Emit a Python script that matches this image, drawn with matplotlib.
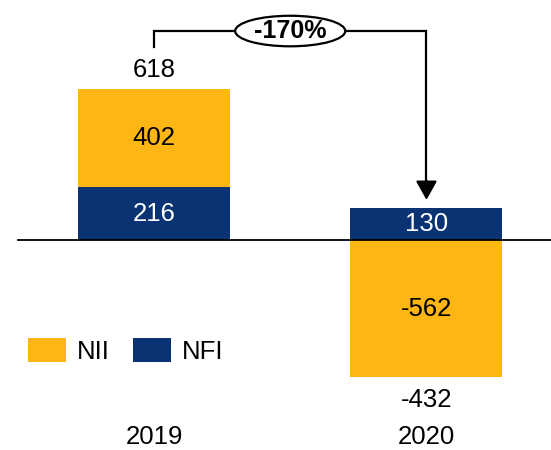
import matplotlib
matplotlib.use("Agg")
import matplotlib.pyplot as plt
from matplotlib.patches import Ellipse, Patch
import numpy as np

plt.rcParams['font.family'] = ['Liberation Sans', 'DejaVu Sans']

categories = ["2019", "2020"]
nfi = [216, 130]
nii = [402, -562]
totals = [618, -432]
change_label = "-170%"

orange = "#FDB614"
navy = "#0A3373"
FS = 18.5

fig = plt.figure(figsize=(5.51, 4.5), dpi=100)
ax = fig.add_axes([0, 0, 1, 1])
ax.set_xlim(-0.565, 1.457)
ax.set_ylim(-859.6, 982)
ax.axis('off')

x = np.arange(len(categories))
w = 0.558

# NFI bars from zero
ax.bar(x, nfi, width=w, color=navy, zorder=2)
# NII bars: stacked on top if positive, below zero if negative
nii_bottom = [n if v > 0 else 0 for n, v in zip(nfi, nii)]
ax.bar(x, nii, width=w, bottom=nii_bottom, color=orange, zorder=2)

# segment labels
for i in range(len(categories)):
    ax.text(x[i], nfi[i] / 2, str(nfi[i]), ha='center', va='center',
            color='white', fontsize=FS, zorder=3)
    ax.text(x[i], nii_bottom[i] + nii[i] / 2, str(nii[i]), ha='center',
            va='center', color='black', fontsize=FS, zorder=3)

# totals
for i, t in enumerate(totals):
    if t >= 0:
        top = nfi[i] + max(nii[i], 0)
        ax.annotate(str(t), (x[i], top), xytext=(0, 13.5),
                    textcoords='offset points', ha='center', va='center',
                    fontsize=FS)
    else:
        bot = min(nii[i], 0)
        ax.annotate(str(t), (x[i], bot), xytext=(0, -16.5),
                    textcoords='offset points', ha='center', va='center',
                    fontsize=FS)

# zero line
ax.plot([-0.499, 1.457], [0, 0], color='black', lw=1.3, zorder=4)

# category labels
trans = ax.get_xaxis_transform()
for i, c in enumerate(categories):
    ax.text(x[i], 0.029, c, ha='center', va='center', fontsize=FS,
            transform=trans)

# arrow bracket
y_top = 855
y_start = 790
y_end = nfi[1] + 34
ax.plot([x[0], x[0], x[1], x[1]], [y_start, y_top, y_top, y_end + 60],
        color='black', lw=1.6, zorder=3, solid_joinstyle='miter')
ax.annotate('', xy=(x[1], y_end), xytext=(x[1], y_end + 80),
            arrowprops=dict(arrowstyle='-|>,head_length=0.5,head_width=0.28',
                            color='black', lw=1.6,
                            mutation_scale=23, shrinkA=0, shrinkB=0))
mid = (x[0] + x[1]) / 2
ell = Ellipse((mid, y_top), width=0.404, height=125, facecolor='white',
              edgecolor='black', lw=1.6, zorder=5)
ax.add_patch(ell)
ax.text(mid, y_top, change_label, ha='center', va='center', fontsize=18,
        fontweight='bold', zorder=6)

# legend
handles = [Patch(facecolor=orange, edgecolor='none', label='NII'),
           Patch(facecolor=navy, edgecolor='none', label='NFI')]
leg = fig.legend(handles=handles, loc='center left',
                 bbox_to_anchor=(28 / 551, 1 - 351 / 450), ncol=2,
                 frameon=False, fontsize=FS, handlelength=1.48,
                 handleheight=1.05, handletextpad=0.43, columnspacing=0.9,
                 borderpad=0, borderaxespad=0)

fig.savefig("out.png", dpi=100)
